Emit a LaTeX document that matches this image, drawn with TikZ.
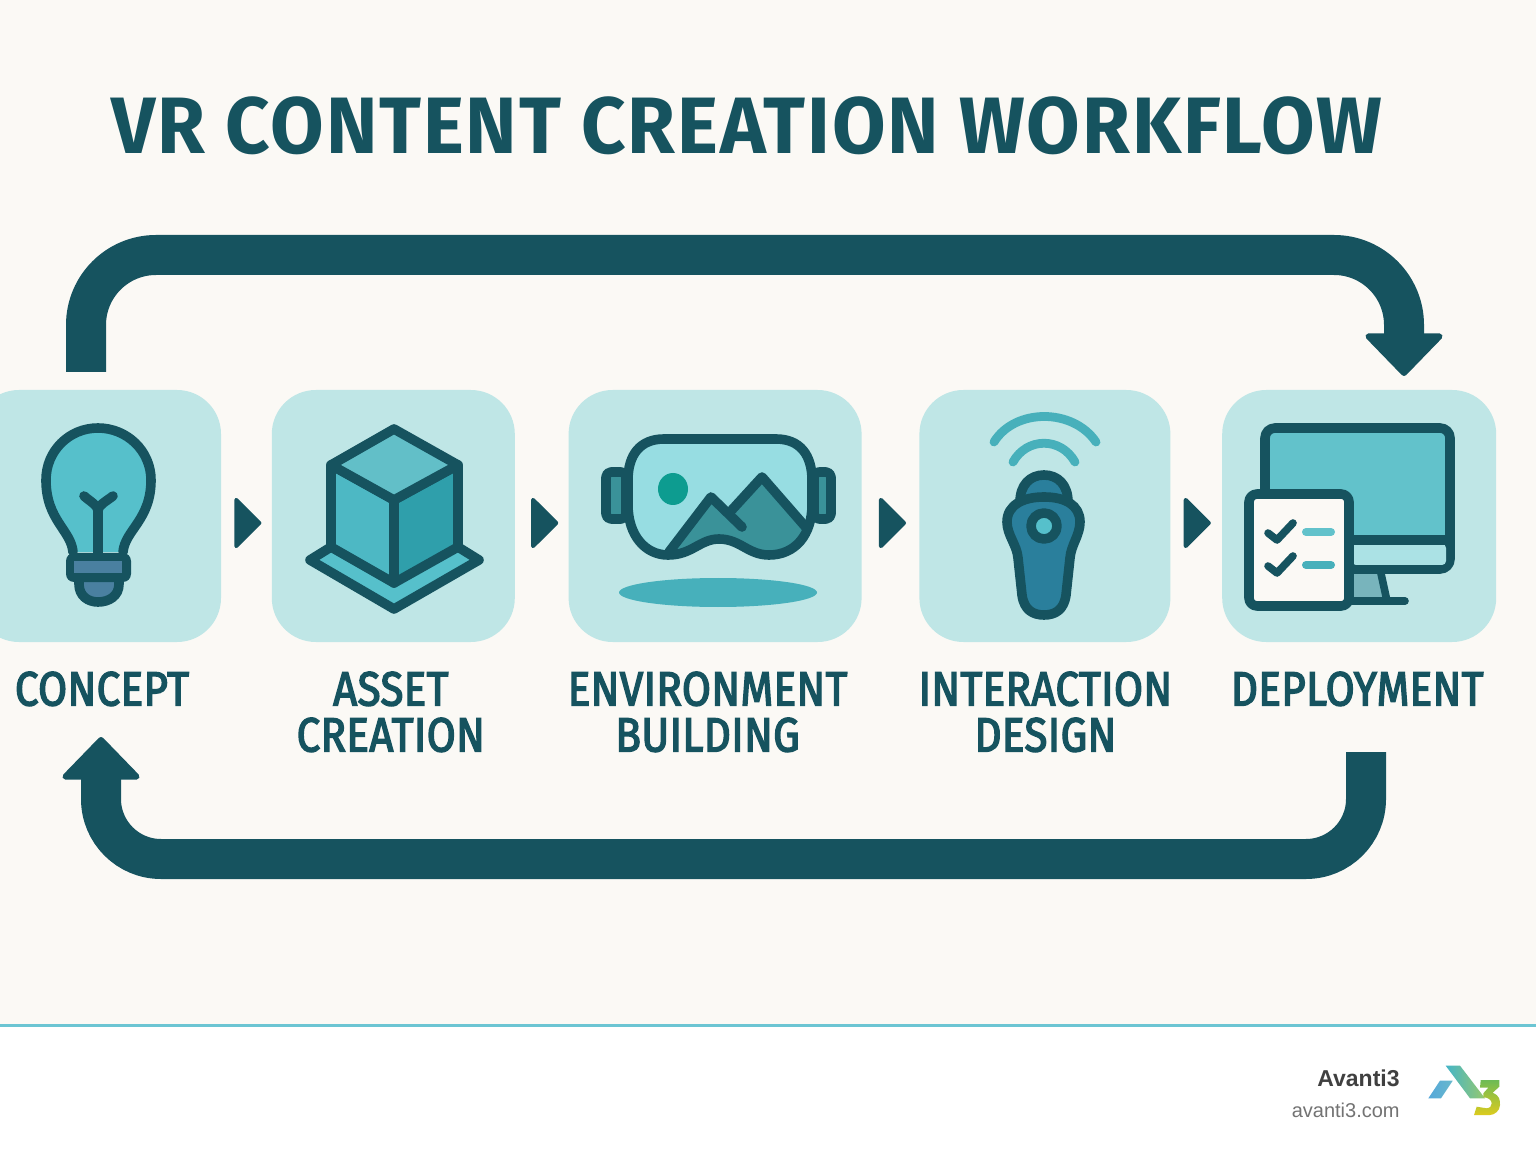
\documentclass[tikz,border=0pt]{standalone}
\usepackage{fontspec}
\setmainfont{Fira Sans}
\newfontfamily\footfont{Liberation Sans}
\newfontfamily\labelfont[FakeStretch=0.875,FakeBold=3,LetterSpace=0.9]{Fira Sans}
\newfontfamily\titlefont[FakeStretch=0.97,LetterSpace=2.3]{Fira Sans}
\usetikzlibrary{arrows.meta}
\usetikzlibrary{positioning}
\definecolor{darkteal}{HTML}{16535F}
\definecolor{tilefill}{HTML}{BFE6E6}
\definecolor{paper}{HTML}{FBF9F5}
\definecolor{rulecol}{HTML}{6CC5D3}
\definecolor{midteal}{HTML}{56C0CB}
\definecolor{cubetop}{HTML}{62BFC8}
\definecolor{cubeleft}{HTML}{4DB8C4}
\definecolor{cuberight}{HTML}{2F9FAB}
\definecolor{lensfill}{HTML}{97DDE2}
\definecolor{peakfill}{HTML}{3A9299}
\definecolor{sunfill}{HTML}{0D9C90}
\definecolor{shadowfill}{HTML}{47B0BB}
\definecolor{padfill}{HTML}{2A7F9C}
\definecolor{basefill}{HTML}{4A80A0}
\definecolor{screenfill}{HTML}{62C2CB}
\definecolor{chinfill}{HTML}{ABE2E5}
\definecolor{standfill}{HTML}{78B4BC}
\definecolor{logoblue}{HTML}{55A8DA}
\definecolor{logosky}{HTML}{68B8CC}
\definecolor{logoteal}{HTML}{45B5C8}
\definecolor{logogreen}{HTML}{96C86E}
\definecolor{logolime}{HTML}{6DBB55}
\definecolor{logoyellow}{HTML}{DCCB1E}
\tikzset{
  tile/.style={fill=tilefill, rounded corners=22pt, minimum height=126pt, inner sep=0pt},
  steplabel/.style={text=darkteal, font=\labelfont\fontsize{24}{23}\selectfont, align=center, inner sep=0pt, anchor=north},
  stepflow/.style 2 args={darkteal, line width=1pt, shorten <=#1, shorten >=#2,
    -{Triangle[length=14pt,width=27.5pt,round,line width=2pt]}},
  loopflow/.style={darkteal, line width=20pt, rounded corners=#1,
    -{Triangle[length=22pt,width=42pt,round,line width=3pt]}},
  icon/.style={draw=darkteal, line width=4.8pt, line join=round, line cap=round},
  thinicon/.style={icon, line width=3.8pt},
  waveline/.style={draw=shadowfill, line width=4.4pt, line cap=round},
}
\begin{document}
\begin{tikzpicture}[x=0.5pt, y=-0.5pt]
    \useasboundingbox (0,0) rectangle (1536,1154);
    \fill[paper] (0,0) rectangle (1536,1026);
    \fill[white] (0,1026) rectangle (1536,1154);
    \draw[rulecol, line width=1.5pt] (0,1025.5) -- (1536,1025.5);

    \node[text=darkteal, font=\titlefont\fontsize{40}{40}\selectfont\bfseries, inner sep=0pt] (title) at (747,126) {VR CONTENT CREATION WORKFLOW};

    % the five tiles
    \node[tile, minimum width=123pt] (concept) at (98,516) {};
    \node[tile, minimum width=121.5pt, right=25pt of concept] (asset) {};
    \node[tile, minimum width=146.5pt, right=26.5pt of asset] (environment) {};
    \node[tile, minimum width=125.5pt, right=28.5pt of environment] (interaction) {};
    \node[tile, minimum width=137pt, right=25.5pt of interaction] (deployment) {};

    \node[steplabel, below=14.5pt of concept, xshift=2pt] (conceptlabel) {CONCEPT};
    \node[steplabel, below=14.5pt of asset, xshift=-1.25pt] (assetlabel) {ASSET\\CREATION};
    \node[steplabel, below=14.5pt of environment, xshift=-3.75pt] (environmentlabel) {ENVIRONMENT\\BUILDING};
    \node[steplabel, below=14.5pt of interaction, xshift=0.25pt] (interactionlabel) {INTERACTION\\DESIGN};
    \node[steplabel, below=14.5pt of deployment, xshift=-1pt] (deploymentlabel) {DEPLOYMENT};

    % small arrows between tiles
    \draw[stepflow={7.5pt}{5pt}] ([yshift=-3.5pt]concept.east) -- ([yshift=-3.5pt]asset.west);
    \draw[stepflow={8.5pt}{5pt}] ([yshift=-3.5pt]asset.east) -- ([yshift=-3.5pt]environment.west);
    \draw[stepflow={8.5pt}{6.5pt}] ([yshift=-3.5pt]environment.east) -- ([yshift=-3.5pt]interaction.west);
    \draw[stepflow={7pt}{5.5pt}] ([yshift=-3.5pt]interaction.east) -- ([yshift=-3.5pt]deployment.west);

    % big loop arrows
    \coordinate (topstart) at (86,372);
    \coordinate (topend) at (1404,376);
    \coordinate (botstart) at (1366,752);
    \coordinate (botend) at (101,737);
    \draw[loopflow=35pt] (topstart) -- (86,255) -- (1404,255) -- (topend);
    \draw[loopflow=30pt] (botstart) -- (1366,859) -- (101,859) -- (botend);

    % bulb
    \path[icon, fill=midteal] (73,552) .. controls (71,530) and (46,520) .. (46,480)
      .. controls (46,451) and (69,428) .. (98,428) .. controls (127,428) and (151,451) .. (151,480)
      .. controls (151,520) and (125,530) .. (123,552);
    \draw[icon] (98,555) -- (98,510) .. controls (97,505) and (91,502) .. (84,496);
    \draw[icon] (98,510) .. controls (99,505) and (105,502) .. (113,496);
    \path[icon, fill=basefill] (79,578) -- (79,584) .. controls (79,596) and (88,602) .. (98,602)
      .. controls (109,602) and (119,596) .. (119,584) -- (119,578);
    \fill[darkteal, rounded corners=4pt] (66,553) rectangle (131,582);
    \fill[basefill] (74,561) rectangle (122,573);

    % cube on a plate
    \path[icon, fill=midteal] (331,547) -- (310,560) -- (394,609) -- (479,560) -- (458,547);
    \path[icon, fill=cubeleft] (331,465) -- (394,500) -- (394,583) -- (331,547) -- cycle;
    \path[icon, fill=cuberight] (458,465) -- (394,500) -- (394,583) -- (458,547) -- cycle;
    \path[icon, fill=cubetop] (394,429) -- (458,465) -- (394,500) -- (331,465) -- cycle;

    % goggles
    \path[icon, fill=peakfill, rounded corners=2.5pt] (606,472) rectangle (626,519);
    \path[icon, fill=peakfill, rounded corners=2.5pt] (814,472) rectangle (831,519);
    \fill[lensfill] (664,439) -- (776,439) .. controls (800,439) and (812,455) .. (812,480) -- (812,505)
      .. controls (812,535) and (795,555) .. (769,555) .. controls (748,555) and (740,539) .. (719,539)
      .. controls (700,539) and (692,555) .. (668,555) .. controls (645,555) and (628,535) .. (628,505)
      -- (628,480) .. controls (628,455) and (640,439) .. (664,439) -- cycle;
    \begin{scope}
      \clip (664,439) -- (776,439) .. controls (800,439) and (812,455) .. (812,480) -- (812,505)
        .. controls (812,535) and (795,555) .. (769,555) .. controls (748,555) and (740,539) .. (719,539)
        .. controls (700,539) and (692,555) .. (668,555) .. controls (645,555) and (628,535) .. (628,505)
        -- (628,480) .. controls (628,455) and (640,439) .. (664,439) -- cycle;
      \fill[peakfill] (669,552) -- (711,497) -- (730,515) -- (762,477) -- (815,540) -- (815,560) -- (669,560) -- cycle;
      \draw[icon] (669,552) -- (711,497) -- (742,527);
      \draw[icon] (730,512) -- (762,477) -- (810,532);
    \end{scope}
    \fill[sunfill] (673,489) ellipse (15 and 16);
    \path[icon] (664,439) -- (776,439) .. controls (800,439) and (812,455) .. (812,480) -- (812,505)
      .. controls (812,535) and (795,555) .. (769,555) .. controls (748,555) and (740,539) .. (719,539)
      .. controls (700,539) and (692,555) .. (668,555) .. controls (645,555) and (628,535) .. (628,505)
      -- (628,480) .. controls (628,455) and (640,439) .. (664,439) -- cycle;
    \fill[shadowfill] (718,592.5) ellipse (99 and 14.5);

    % controller
    \draw[waveline] (994,442) .. controls (1015,408) and (1073,408) .. (1096,442);
    \draw[waveline] (1013,462) .. controls (1027,437) and (1061,437) .. (1075,462);
    \path[icon, fill=padfill] (1020,502) .. controls (1020,485) and (1030,475) .. (1044,475)
      .. controls (1058,475) and (1068,485) .. (1068,502);
    \path[icon, fill=padfill] (1044,497) .. controls (1065,497) and (1080,505) .. (1080,522)
      .. controls (1080,535) and (1071,545) .. (1070,558) -- (1066,595)
      .. controls (1064,610) and (1055,615) .. (1044,615) .. controls (1033,615) and (1024,610) .. (1022,595)
      -- (1018,558) .. controls (1017,545) and (1007,535) .. (1007,522)
      .. controls (1007,505) and (1023,497) .. (1044,497) -- cycle;
    \path[icon, fill=midteal] (1044,526) circle (13);

    % monitor and checklist
    \path[thinicon, fill=standfill] (1345,569) -- (1380,569) -- (1387,601) -- (1345,601) -- cycle;
    \draw[thinicon] (1345,601) -- (1405,601);
    \path[icon, fill=screenfill, rounded corners=5pt] (1265,428) rectangle (1450,569);
    \path[fill=chinfill, rounded corners=2pt] (1352,544) -- (1446,544) -- (1446,565) -- (1352,565) -- cycle;
    \draw[icon, line cap=butt] (1265,540) -- (1450,540);
    \path[icon, fill=paper, rounded corners=4pt] (1249,494) rectangle (1349,606);
    \draw[thinicon] (1268,533) -- (1277,540) -- (1293,523);
    \draw[thinicon] (1268,566) -- (1277,573) -- (1293,556);
    \draw[screenfill, line width=4pt, line cap=round] (1306,532) -- (1331,532);
    \draw[shadowfill, line width=4pt, line cap=round] (1306,565) -- (1331,565);

    % footer
    \node[anchor=east, inner sep=0pt, text=black!75, font=\footfont\fontsize{11.5}{12}\selectfont\bfseries] (brand) at (1400,1078) {Avanti3};
    \node[anchor=east, inner sep=0pt, text=black!55, font=\footfont\fontsize{10}{12}\selectfont] (site) at (1400,1110) {avanti3.com};
    \shade[left color=logoblue, right color=logosky] (1428.3,1098.3) -- (1440,1080.7) -- (1452.7,1080.7) -- (1441,1098.3) -- cycle;
    \shade[left color=logoteal, right color=logogreen] (1445.7,1065.7) -- (1460,1065.7) -- (1485,1098.3) -- (1470,1098.3) -- cycle;
    \shade[top color=logolime, bottom color=logoyellow] (1480.7,1080) -- (1499.3,1080) -- (1499.3,1086.7) -- (1492.7,1092.7)
      .. controls (1500,1096) and (1500,1100) .. (1500,1105) .. controls (1500,1111) and (1494,1115) .. (1490,1115) -- (1474,1115)
      -- (1476.7,1106.7) -- (1486.7,1108.3) .. controls (1490,1108) and (1491.7,1106) .. (1491.7,1103.3) .. controls (1491.7,1100) and (1488,1097.3) .. (1483.3,1097.3)
      -- (1483.3,1093.3) -- (1488.3,1087.7) -- (1480,1087.7) -- cycle;
\end{tikzpicture}
\end{document}
